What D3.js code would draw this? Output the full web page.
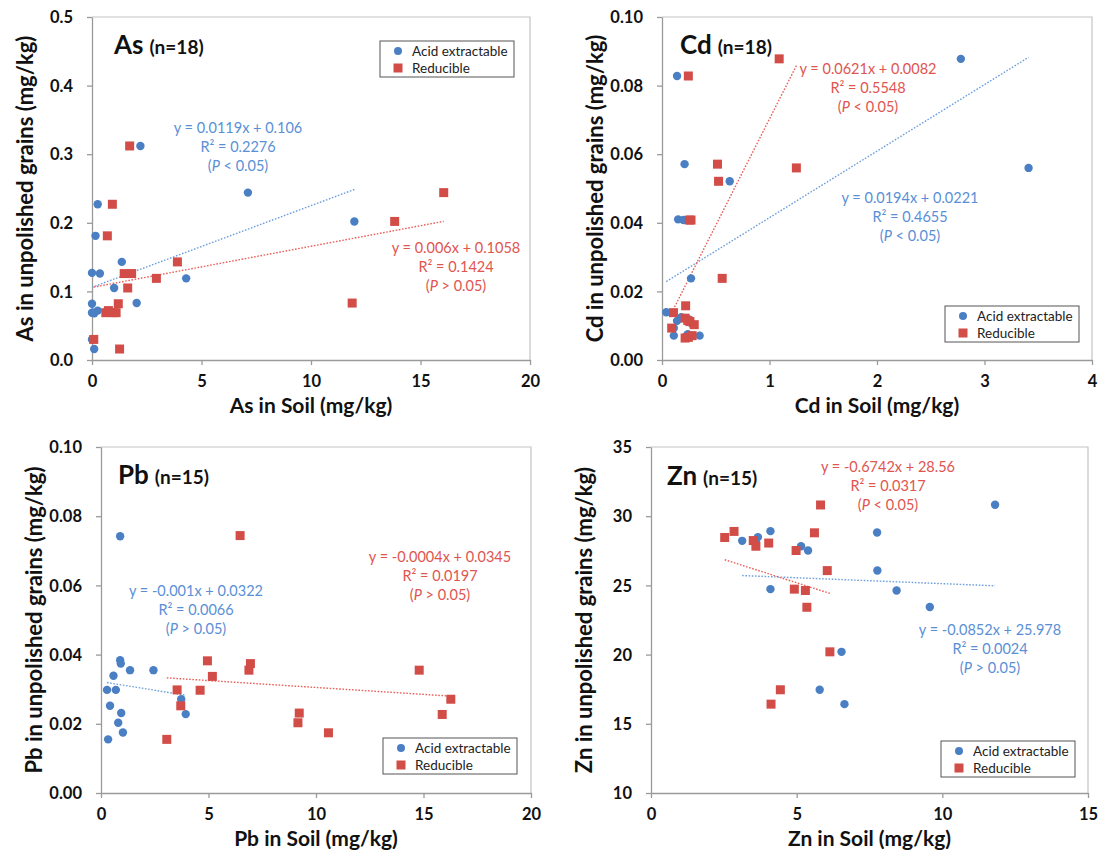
<!DOCTYPE html>
<html>
<head>
<meta charset="utf-8">
<script src="https://cdn.jsdelivr.net/npm/d3@7"></script>
<style>
  body { margin: 0; background: #fff; }
  svg { display: block; font-family: Lato, "Open Sans", sans-serif; }
</style>
</head>
<body>
<svg width="1106" height="851"></svg>
<script>
// --- Data: [soil, grain] pairs (mg/kg) ---
const asAcid = [[2.21,0.312],[7.12,0.244],[11.98,0.202],[0.26,0.227],[0.16,0.181],[1.36,0.143],[0.0,0.127],[0.36,0.126],[1.01,0.105],[4.30,0.119],[2.04,0.083],[0.0,0.082],[0.0,0.069],[0.1,0.068],[0.26,0.072],[0.0,0.030],[0.1,0.016],[0.05,0.069]];
const asRed = [[1.72,0.312],[16.06,0.244],[13.82,0.202],[11.88,0.083],[0.93,0.227],[0.70,0.181],[3.90,0.143],[2.94,0.119],[1.47,0.126],[1.81,0.126],[1.63,0.105],[1.20,0.082],[0.63,0.069],[0.97,0.069],[0.75,0.072],[0.08,0.030],[1.26,0.016],[1.10,0.069]];

const cdAcid = [[2.78,0.0878],[0.14,0.0828],[0.21,0.0571],[0.63,0.0521],[3.41,0.0560],[0.15,0.0410],[0.20,0.0408],[0.27,0.0238],[0.04,0.0139],[0.14,0.0114],[0.11,0.0071],[0.35,0.0071],[0.11,0.0093],[0.22,0.0068],[0.25,0.0118],[0.18,0.0125],[0.28,0.0105],[0.24,0.0075]];
const cdRed = [[1.09,0.0878],[0.245,0.0828],[0.516,0.0571],[0.526,0.0521],[1.25,0.0560],[0.255,0.0408],[0.27,0.0408],[0.56,0.0238],[0.22,0.0158],[0.107,0.0138],[0.09,0.0093],[0.215,0.0122],[0.26,0.0112],[0.30,0.0103],[0.215,0.0064],[0.28,0.0071],[0.245,0.0066],[0.24,0.0115]];

const pbAcid = [[0.89,0.0742],[0.89,0.0384],[0.92,0.0374],[1.35,0.0355],[2.44,0.0355],[0.58,0.0339],[0.28,0.0298],[0.69,0.0298],[0.42,0.0252],[0.94,0.0231],[0.80,0.0203],[1.02,0.0175],[0.33,0.0155],[3.73,0.0271],[3.94,0.0228]];
const pbRed = [[6.47,0.0744],[4.95,0.0382],[6.95,0.0374],[6.88,0.0355],[5.18,0.0337],[3.54,0.0298],[4.61,0.0297],[3.71,0.0252],[3.06,0.0155],[9.22,0.0231],[9.16,0.0203],[10.58,0.0174],[14.80,0.0355],[16.27,0.0271],[15.87,0.0227]];

const znAcid = [[11.81,30.83],[7.76,28.82],[7.77,26.08],[8.43,24.63],[9.57,23.44],[6.54,20.2],[5.79,17.46],[6.64,16.42],[4.10,28.92],[3.67,28.49],[3.13,28.22],[5.15,27.83],[5.39,27.52],[4.10,24.73],[3.60,28.10]];
const znRed = [[5.82,30.81],[5.61,28.80],[2.53,28.46],[2.85,28.90],[3.51,28.24],[3.60,27.83],[4.04,28.06],[4.98,27.52],[6.05,26.07],[4.92,24.73],[5.30,24.63],[5.35,23.42],[6.14,20.20],[4.44,17.46],[4.12,16.42]];

// --- Regression labels: [slope, intercept], R², P sign (acid, reducible) ---
const asFitAcid = [0.0119, 0.106],   asFitRed = [0.006, 0.1058];
const cdFitAcid = [0.0194, 0.0221],  cdFitRed = [0.0621, 0.0082];
const pbFitAcid = [-0.001, 0.0322],  pbFitRed = [-0.0004, 0.0345];
const znFitAcid = [-0.0852, 25.978], znFitRed = [-0.6742, 28.56];
const asR2 = [0.2276, 0.1424], cdR2 = [0.4655, 0.5548], pbR2 = [0.0066, 0.0197], znR2 = [0.0024, 0.0317];
const asP = ["<", ">"], cdP = ["<", "<"], pbP = [">", ">"], znP = [">", "<"];

// --- Axis ticks ---
const soilTicks20 = [0, 5, 10, 15, 20];
const soilTicks4 = [0, 1, 2, 3, 4];
const soilTicks15 = [0, 5, 10, 15];
const asGrainTicks = [0, 0.1, 0.2, 0.3, 0.4, 0.5];
const smallGrainTicks = [0, 0.02, 0.04, 0.06, 0.08, 0.10];
const znGrainTicks = [10, 15, 20, 25, 30, 35];

const seriesNames = ["Acid extractable", "Reducible"];

// --- Style ---
const BLUE = "#4a7fc4", RED = "#d24d48";
const BLUE_TXT = "#5a8fd6", RED_TXT = "#e0554f";
const BLUE_LINE = "#6d9fde", RED_LINE = "#ea5f59";

const panels = [
  { el: "As", n: 18, acid: asAcid, red: asRed, fits: [asFitAcid, asFitRed], r2: asR2, p: asP,
    box: { l: 92, r: 530, t: 17, b: 360 }, xDom: [0, 20], xTicks: soilTicks20,
    yDom: [0, 0.5], yTicks: asGrainTicks, yFmt: ".1f",
    title: [114, 54], legend: [380, 41], eqs: [[238, 133], [456, 253]] },
  { el: "Cd", n: 18, acid: cdAcid, red: cdRed, fits: [cdFitAcid, cdFitRed], r2: cdR2, p: cdP,
    box: { l: 662, r: 1092, t: 17, b: 360 }, xDom: [0, 4], xTicks: soilTicks4,
    yDom: [0, 0.1], yTicks: smallGrainTicks, yFmt: ".2f",
    title: [680, 54], legend: [945, 306], eqs: [[910, 203], [868, 74]] },
  { el: "Pb", n: 15, acid: pbAcid, red: pbRed, fits: [pbFitAcid, pbFitRed], r2: pbR2, p: pbP,
    box: { l: 101, r: 531, t: 447, b: 793 }, xDom: [0, 20], xTicks: soilTicks20,
    yDom: [0, 0.1], yTicks: smallGrainTicks, yFmt: ".2f",
    title: [118, 484], legend: [383, 738], eqs: [[196, 596], [440, 562]] },
  { el: "Zn", n: 15, acid: znAcid, red: znRed, fits: [znFitAcid, znFitRed], r2: znR2, p: znP,
    box: { l: 651, r: 1088, t: 447, b: 793 }, xDom: [0, 15], xTicks: soilTicks15,
    yDom: [10, 35], yTicks: znGrainTicks, yFmt: "d",
    title: [667, 485], legend: [941, 741], eqs: [[990, 635], [888, 472]] }
];

const svg = d3.select("svg");

function drawPanel(cfg) {
  const { l, r, t, b } = cfg.box;
  const x = d3.scaleLinear().domain(cfg.xDom).range([l, r]);
  const y = d3.scaleLinear().domain(cfg.yDom).range([b, t]);
  const g = svg.append("g");

  // frame (top/right)
  g.append("path")
    .attr("d", `M${l},${t}H${r}V${b}`)
    .attr("fill", "none").attr("stroke", "#c4c4c4").attr("stroke-width", 1.2);

  // axes
  const xAxis = g.append("g").attr("transform", `translate(0,${b})`)
    .call(d3.axisBottom(x).tickValues(cfg.xTicks).tickSize(5).tickSizeOuter(0).tickFormat(d3.format("d")));
  const yAxis = g.append("g").attr("transform", `translate(${l},0)`)
    .call(d3.axisLeft(y).tickValues(cfg.yTicks).tickSize(5).tickSizeOuter(0).tickFormat(d3.format(cfg.yFmt)));
  [xAxis, yAxis].forEach(a => {
    a.select(".domain").attr("stroke", "#9a9a9a").attr("stroke-width", 1.3);
    a.selectAll(".tick line").attr("stroke", "#9a9a9a").attr("stroke-width", 1.3);
    a.selectAll("text").attr("fill", "#111").attr("font-size", 16.5).attr("font-weight", 700)
      .attr("font-family", "Lato, sans-serif");
  });
  xAxis.selectAll("text").attr("dy", null).attr("y", 27);
  yAxis.selectAll("text").attr("x", -19).attr("dy", "0.35em");

  // axis titles
  g.append("text").attr("x", (l + r) / 2).attr("y", b + 53)
    .attr("text-anchor", "middle").attr("font-size", 21).attr("font-weight", 700).attr("fill", "#111")
    .text(`${cfg.el} in Soil (mg/kg)`);
  g.append("text")
    .attr("transform", `translate(${l - 59},${(t + b) / 2}) rotate(-90)`)
    .attr("text-anchor", "middle").attr("font-size", 22).attr("font-weight", 700).attr("fill", "#111")
    .text(`${cfg.el} in unpolished grains (mg/kg)`);

  // panel title
  const tt = g.append("text").attr("x", cfg.title[0]).attr("y", cfg.title[1]).attr("fill", "#111").attr("font-weight", 700);
  tt.append("tspan").attr("font-size", 26).text(cfg.el);
  tt.append("tspan").attr("font-size", 19).attr("dx", 6).text(`(n=${cfg.n})`);

  // trend lines over each series' x-range
  const line = d3.line().x(d => x(d[0])).y(d => y(d[1]));
  [[cfg.acid, cfg.fits[0], BLUE_LINE], [cfg.red, cfg.fits[1], RED_LINE]].forEach(([data, fit, col]) => {
    const ext = d3.extent(data, d => d[0]);
    const pts = ext.map(v => [v, fit[0] * v + fit[1]]);
    g.append("path").attr("d", line(pts)).attr("fill", "none")
      .attr("stroke", col).attr("stroke-width", 1.4).attr("stroke-dasharray", "1.6,1.6");
  });

  // markers
  g.append("g").selectAll("circle").data(cfg.acid).join("circle")
    .attr("cx", d => x(d[0])).attr("cy", d => y(d[1])).attr("r", 4.2).attr("fill", BLUE);
  g.append("g").selectAll("rect").data(cfg.red).join("rect")
    .attr("x", d => x(d[0]) - 4.5).attr("y", d => y(d[1]) - 4.5)
    .attr("width", 9).attr("height", 9).attr("fill", RED);

  // equations
  [0, 1].forEach(i => {
    const fit = cfg.fits[i];
    const col = i === 0 ? BLUE_TXT : RED_TXT;
    const [cx, cy] = cfg.eqs[i];
    const te = g.append("text").attr("text-anchor", "middle").attr("fill", col).attr("font-size", 14.5);
    te.append("tspan").attr("x", cx).attr("y", cy).text(`y = ${fit[0]}x + ${fit[1]}`);
    te.append("tspan").attr("x", cx).attr("y", cy + 19).text(`R² = ${cfg.r2[i]}`);
    const l3 = te.append("tspan").attr("x", cx).attr("y", cy + 38);
    l3.append("tspan").text("(");
    l3.append("tspan").attr("font-style", "italic").text("P");
    l3.append("tspan").text(` ${cfg.p[i]} 0.05)`);
  });

  // legend
  const [lx, ly] = cfg.legend;
  const lg = g.append("g").attr("transform", `translate(${lx},${ly})`);
  lg.append("rect").attr("width", 134).attr("height", 36).attr("fill", "#fff")
    .attr("stroke", "#555").attr("stroke-width", 1);
  lg.append("circle").attr("cx", 18).attr("cy", 10).attr("r", 4).attr("fill", BLUE);
  lg.append("rect").attr("x", 13.5).attr("y", 22.5).attr("width", 9).attr("height", 9).attr("fill", RED);
  seriesNames.forEach((s, i) => {
    lg.append("text").attr("x", 32).attr("y", 14.5 + i * 17).attr("font-size", 13.5)
      .attr("fill", "#222").text(s);
  });
}

panels.forEach(drawPanel);
</script>
</body>
</html>
